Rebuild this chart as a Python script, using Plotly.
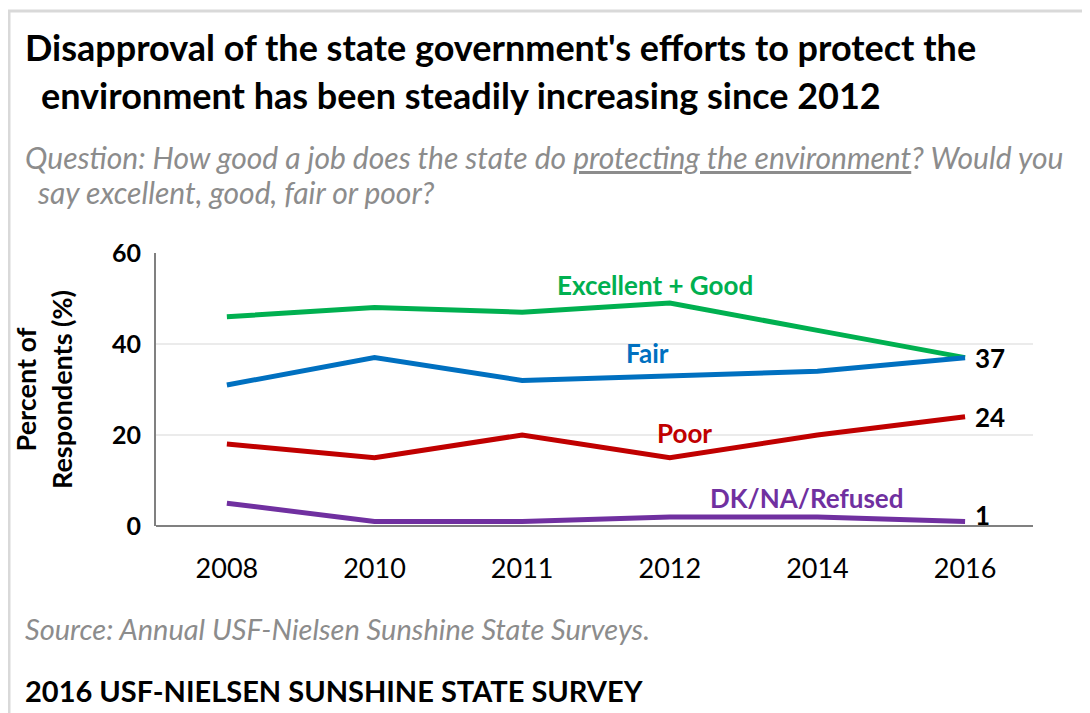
import plotly.graph_objects as go

years = ["2008", "2010", "2011", "2012", "2014", "2016"]
excellent_good = [46, 48, 47, 49, 43, 37]
fair = [31, 37, 32, 33, 34, 37]
poor = [18, 15, 20, 15, 20, 24]
dk_na = [5, 1, 1, 2, 2, 1]

series = [
    ("Excellent + Good", excellent_good, "#00B050"),
    ("Fair", fair, "#0070C0"),
    ("Poor", poor, "#C00000"),
    ("DK/NA/Refused", dk_na, "#7030A0"),
]

# page body adds 8px around the figure, so work in page pixels and shift
OFF = 8
W, H = 1090 - OFF, 713 - OFF
L, R, T, B = 156 - OFF, 57, 253 - OFF, 187
PW, PH = W - L - R, H - T - B


def px(x):
    return (x - OFF - L) / PW


def py(y):
    return (H - B - (y - OFF)) / PH


FONT = "Lato"

fig = go.Figure()
for name, vals, color in series:
    fig.add_trace(go.Scatter(x=years, y=vals, mode="lines", name=name,
                             line=dict(color=color, width=5)))

# series labels
label_pos = {"Excellent + Good": (2.9, 52.9), "Fair": (2.85, 38),
             "Poor": (3.1, 20.4), "DK/NA/Refused": (3.93, 6.1)}
for name, vals, color in series:
    x, y = label_pos[name]
    fig.add_annotation(x=x, y=y, xref="x", yref="y", text=f"<b>{name}</b>",
                       showarrow=False, font=dict(family=FONT, size=26, color=color))

# end value labels (category index, since the year strings look numeric)
last = len(years) - 1
for name, vals, color in series[1:]:
    fig.add_annotation(x=last, y=vals[-1], xref="x", yref="y", text=f"<b>{vals[-1]}</b>",
                       showarrow=False, xanchor="left", xshift=8,
                       yshift=6 if vals[-1] < 5 else 0,
                       font=dict(family=FONT, size=26, color="black"))

texts = [
    ("<b>Disapproval of the state government's efforts to protect the</b>", 24, 47, 36, "black"),
    ("<b>environment has been steadily increasing since 2012</b>", 40, 95, 36, "black"),
    ("<i>Question: How good a job does the state do <u>protecting the environment</u>? Would you</i>",
     24, 157, 30, "#8c8c8c"),
    ("<i>say excellent, good, fair or poor?</i>", 36, 192, 30, "#8c8c8c"),
    ("<i>Source: Annual USF-Nielsen Sunshine State Surveys.</i>", 24, 628, 29, "#8c8c8c"),
    ("<b>2016 USF-NIELSEN SUNSHINE STATE SURVEY</b>", 24, 690, 29, "black"),
]
for text, x, y, size, color in texts:
    fig.add_annotation(x=px(x), y=py(y), xref="paper", yref="paper", text=text,
                       showarrow=False, xanchor="left", yanchor="middle", borderpad=0,
                       font=dict(family=FONT, size=size, color=color))

# outer frame
fig.add_shape(type="line", xref="paper", yref="paper", x0=px(OFF), x1=px(1090), y0=py(11), y1=py(11),
              line=dict(color="#d9d9d9", width=3))
fig.add_shape(type="line", xref="paper", yref="paper", x0=px(OFF + 1), x1=px(OFF + 1), y0=py(11), y1=py(713),
              line=dict(color="#d9d9d9", width=3))

fig.update_layout(
    width=W, height=H,
    margin=dict(l=L, r=R, t=T, b=B),
    paper_bgcolor="white", plot_bgcolor="white",
    showlegend=False,
    font=dict(family=FONT, color="black"),
    xaxis=dict(type="category", range=[-0.48, 5.46], showgrid=False, showline=False,
               ticks="", tickfont=dict(family=FONT, size=27, color="black"), ticklabelstandoff=24),
    yaxis=dict(range=[0, 60], tickvals=[0, 20, 40, 60], showgrid=True, gridcolor="#ebebeb",
               gridwidth=2, showline=True, linecolor="#808080", linewidth=2, zeroline=True,
               zerolinecolor="#808080", zerolinewidth=2, ticks="",
               tickfont=dict(family=FONT, size=25, color="black", weight="bold"),
               ticklabelstandoff=8,
               title=dict(text="<b>Percent of<br>Respondents (%)</b>", standoff=32,
                          font=dict(family=FONT, size=27, color="black"))),
)

fig.write_html("out.html")
